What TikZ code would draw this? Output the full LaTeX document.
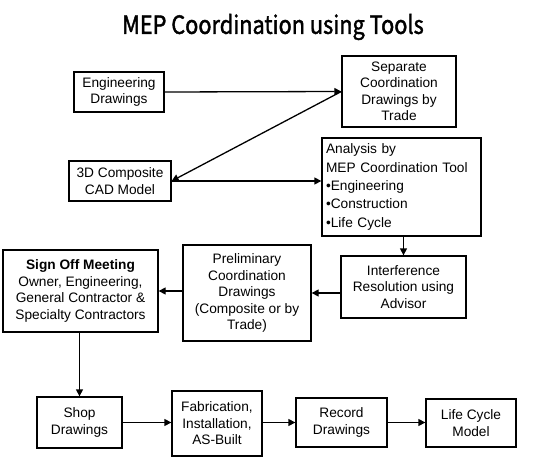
\documentclass[tikz,border=0pt]{standalone}
\usepackage{fontspec}
\setmainfont{Liberation Sans}
\newfontfamily\titlefont[FakeBold=1.6,FakeStretch=0.87]{Noto Sans CJK SC}
\usetikzlibrary{arrows.meta}
\begin{document}
\begin{tikzpicture}[x=1pt,y=-1pt,
  box/.style={draw,line width=1.3pt,inner sep=0pt,align=center,font=\fontsize{13.7}{16.5}\selectfont},
  conn/.style={line width=1.3pt,-{Triangle[length=7pt,width=7pt]}}]
\useasboundingbox[fill=white] (0,0) rectangle (550,460);
\node[font=\titlefont\fontsize{25}{28}\selectfont] (title) at (273,27) {MEP Coordination using Tools};
% boxes
\node[box,minimum width=90pt,minimum height=40pt] (eng) at (119,92) {Engineering\\Drawings};
\node[box,minimum width=114pt,minimum height=71pt] (sep) at (399,91.5) {Separate\\Coordination\\Drawings by\\Trade};
\node[box,minimum width=102pt,minimum height=40pt] (cad) at (120,181) {3D Composite\\CAD Model};
\node[box,minimum width=159pt,minimum height=98pt,align=left,text width=151pt,font=\fontsize{13.7}{18.3}\selectfont] (ana) at (401.5,187) {Analysis by\\MEP Coordination Tool\\•Engineering\\•Construction\\•Life Cycle};
\node[box,minimum width=125pt,minimum height=62pt] (int) at (403.5,287) {Interference\\Resolution using\\Advisor};
\node[box,minimum width=128pt,minimum height=96pt] (pre) at (247,293) {Preliminary\\Coordination\\Drawings\\(Composite or by\\Trade)};
\node[box,minimum width=155pt,minimum height=82pt] (sign) at (80.5,291) {\textbf{Sign Off Meeting}\\Owner, Engineering,\\General Contractor \&\\Specialty Contractors};
\node[box,minimum width=85pt,minimum height=51pt] (shop) at (79.5,422.5) {Shop\\Drawings};
\node[box,minimum width=90pt,minimum height=65pt] (fab) at (217,423.5) {Fabrication,\\Installation,\\AS-Built};
\node[box,minimum width=91pt,minimum height=49pt] (rec) at (341.5,422.5) {Record\\Drawings};
\node[box,minimum width=90pt,minimum height=48pt] (life) at (471,423) {Life Cycle\\Model};
% connectors
\draw[conn] (eng.east) -- (sep.west);
\draw[conn] (sep.west) -- (cad.east);
\draw[conn] (cad.east) -- (ana.west |- cad.east);
\draw[conn] (ana.south -| int.north) -- (int.north);
\draw[conn] (int.west |- pre.east) -- (pre.east);
\draw[conn] (pre.west |- sign.east) -- (sign.east);
\draw[conn] (sign.south -| shop.north) -- (shop.north);
\draw[conn] (shop.east) -- (fab.west |- shop.east);
\draw[conn] (fab.east |- rec.west) -- (rec.west);
\draw[conn] (rec.east) -- (life.west |- rec.east);
\end{tikzpicture}
\end{document}
